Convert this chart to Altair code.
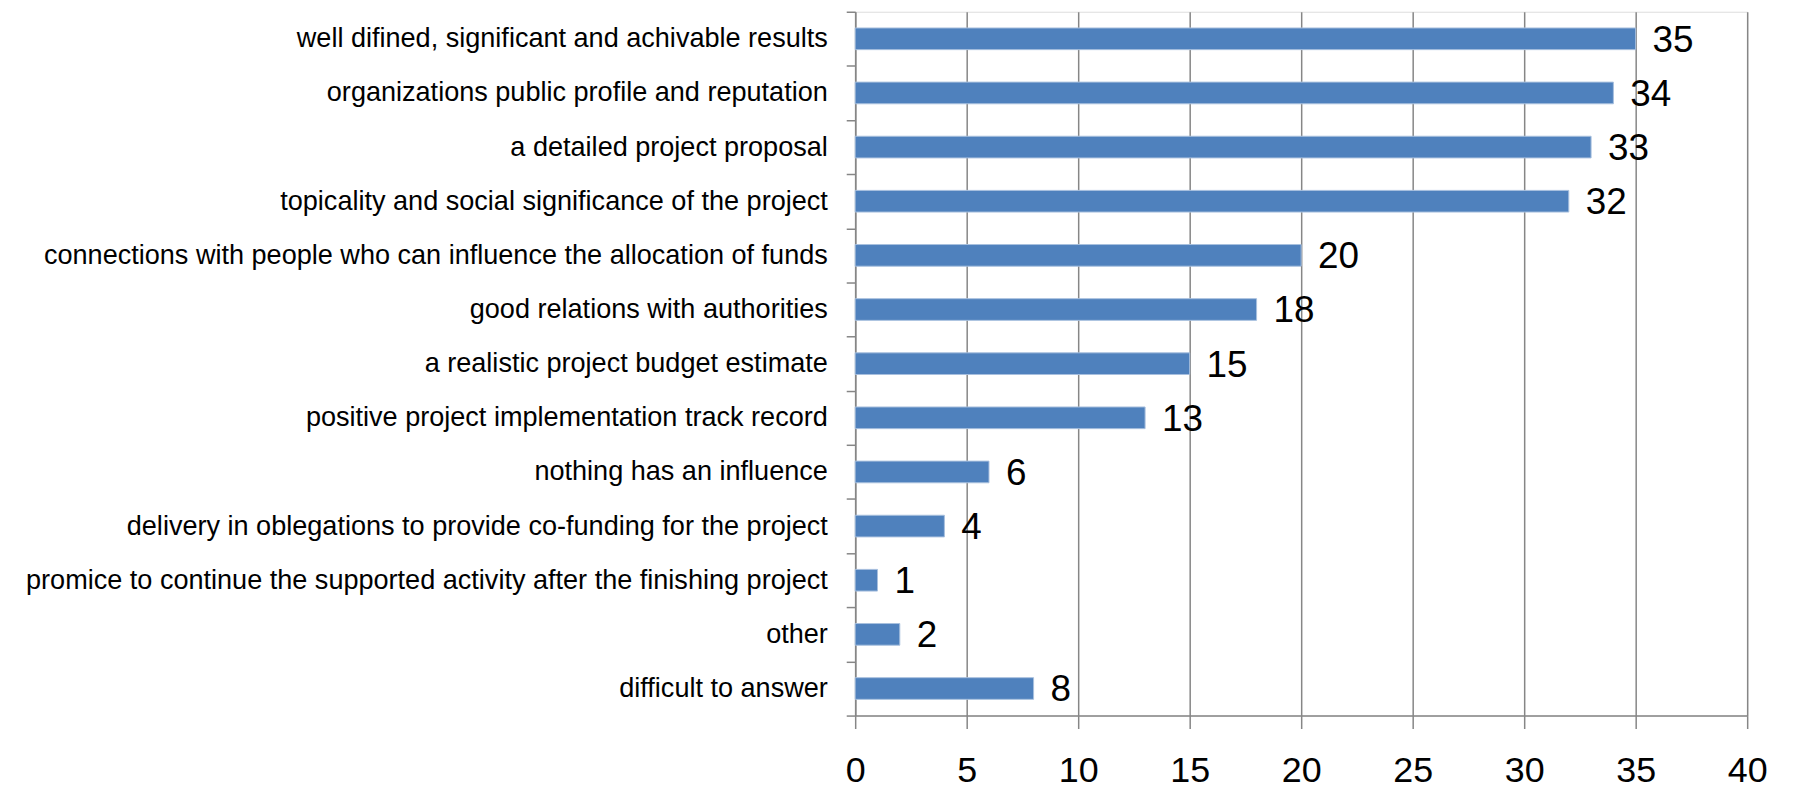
import altair as alt
import pandas as pd

categories = [
    "well difined, significant and achivable results",
    "organizations public profile and reputation",
    "a detailed project proposal",
    "topicality and social significance of the project",
    "connections with people who can influence the allocation of funds",
    "good relations with authorities",
    "a realistic project budget estimate",
    "positive project implementation track record",
    "nothing has an influence",
    "delivery in oblegations to provide co-funding for the project",
    "promice to continue the supported activity after the finishing project",
    "other",
    "difficult to answer",
]
values = [35, 34, 33, 32, 20, 18, 15, 13, 6, 4, 1, 2, 8]
x_ticks = [0, 5, 10, 15, 20, 25, 30, 35, 40]

df = pd.DataFrame({"category": categories, "value": values})

FONT = "Liberation Sans"
GRID = "#868686"

y_enc = alt.Y(
    "category:N",
    sort=categories,
    scale=alt.Scale(paddingInner=0, paddingOuter=0),
    axis=alt.Axis(
        title=None,
        tickBand="extent",
        tickSize=9,
        tickColor=GRID,
        tickWidth=1.5,
        domainColor=GRID,
        domainWidth=1.5,
        labelPadding=19,
        labelFontSize=27.2,
        labelFont=FONT,
        labelColor="#000000",
        labelLimit=1000,
        grid=False,
    ),
)
x_enc = alt.X(
    "value:Q",
    scale=alt.Scale(domain=[0, 40], nice=False),
    axis=alt.Axis(
        title=None,
        values=x_ticks,
        tickSize=13,
        tickColor=GRID,
        tickWidth=1.5,
        domainColor=GRID,
        domainWidth=1.5,
        gridColor=GRID,
        gridWidth=1.5,
        gridOpacity=1,
        labelPadding=25,
        labelFontSize=36,
        labelFont=FONT,
        labelColor="#000000",
        labelFlush=False,
    ),
)

bars = alt.Chart(df).mark_bar(
    color="#4F81BD", stroke="#A7BFDE", strokeWidth=1, height={"band": 0.4}
).encode(x=x_enc, y=y_enc)
labels = alt.Chart(df).mark_text(
    align="left", baseline="middle", dx=17, dy=2, fontSize=37, font=FONT, color="#000000"
).encode(x="value:Q", y=alt.Y("category:N", sort=categories), text="value:Q")

chart = (
    alt.layer(bars, labels)
    .properties(
        width=896,
        height=707,
        autosize=alt.AutoSizeParams(type="none"),
        padding={"left": 851, "top": 2, "right": 40, "bottom": 72},
    )
    .configure_view(stroke=None)
    .configure(background="white")
)

chart.save("out.html", embed_options={"renderer": "svg", "actions": False})
